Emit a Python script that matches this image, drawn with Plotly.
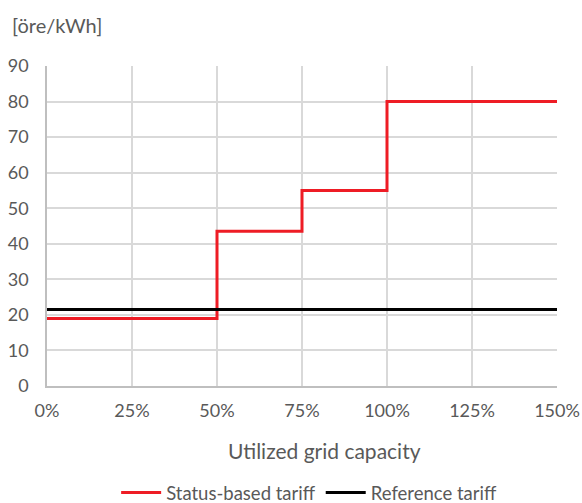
import plotly.graph_objects as go

# Utilized grid capacity (fraction) breakpoints and tariff levels [öre/kWh]
capacity_steps = [0.0, 0.5, 0.75, 1.0, 1.5]
status_tariff = [19, 43.5, 55, 80, 80]
reference_capacity = [0.0, 1.5]
reference_tariff = [21.5, 21.5]

x_ticks = [0, 0.25, 0.5, 0.75, 1.0, 1.25, 1.5]
x_tick_labels = ["0%", "25%", "50%", "75%", "100%", "125%", "150%"]
y_ticks = list(range(0, 100, 10))

FONT = "Lato, Open Sans, sans-serif"
TXT = "#595959"

fig = go.Figure()
fig.add_trace(go.Scatter(
    x=capacity_steps, y=status_tariff, mode="lines",
    line=dict(color="#ee1c25", width=3, shape="hv"),
    name="Status-based tariff",
))
fig.add_trace(go.Scatter(
    x=reference_capacity, y=reference_tariff, mode="lines",
    line=dict(color="#000000", width=3),
    name="Reference tariff",
))

fig.update_layout(
    width=582, height=503,
    margin=dict(l=47, r=25, t=66, b=117, autoexpand=False),
    paper_bgcolor="white", plot_bgcolor="white",
    font=dict(family=FONT, size=18, color=TXT),
    showlegend=True,
    legend=dict(orientation="h", x=0.514, xanchor="center", y=-0.334, yanchor="middle",
                font=dict(size=18.5, color=TXT), itemwidth=40, tracegroupgap=0),
    xaxis=dict(
        range=[0, 1.5], tickvals=x_ticks, ticktext=x_tick_labels,
        showgrid=True, gridcolor="#d9d9d9", gridwidth=1.5,
        showline=True, linecolor="#bfbfbf", linewidth=1.5,
        ticks="", zeroline=False, fixedrange=True, automargin=False,
        ticklabelstandoff=8,
    ),
    yaxis=dict(
        range=[0, 90], tickvals=y_ticks,
        showgrid=True, gridcolor="#d9d9d9", gridwidth=1.5,
        showline=True, linecolor="#bfbfbf", linewidth=1.5,
        ticks="", zeroline=False, fixedrange=True, automargin=False,
        ticklabelstandoff=13,
    ),
    annotations=[
        dict(text="[öre/kWh]", xref="paper", yref="paper", x=-0.0725, y=1.128,
             xanchor="left", yanchor="middle", showarrow=False,
             font=dict(size=20, color=TXT)),
        dict(text="Utilized grid capacity", xref="paper", yref="paper", x=0.545, y=-0.2,
             xanchor="center", yanchor="middle", showarrow=False,
             font=dict(size=21, color=TXT)),
    ],
)

fig.write_html("out.html")
